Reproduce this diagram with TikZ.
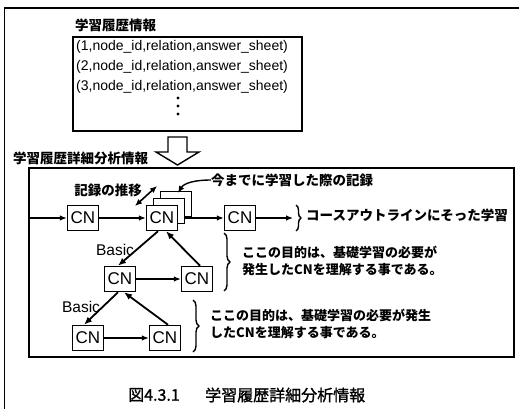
\documentclass[tikz,border=0pt]{standalone}
\usepackage{fontspec}
\setmainfont{Liberation Sans}
\newfontfamily\jp{Noto Sans CJK JP}
\newfontfamily\jpmed[FakeBold=1.2]{Noto Sans CJK JP}
\usetikzlibrary{arrows.meta,decorations.pathreplacing}
\begin{document}
\begin{tikzpicture}[x=1pt,y=-1pt,
 frame/.style={line width=1.4pt},
 cnbox/.style={draw,line width=1.5pt,fill=white,minimum width=31pt,minimum height=25pt,inner sep=0pt,font=\fontsize{17}{17}\selectfont},
 harrow/.style={line width=1.2pt,-{Latex[length=7pt,width=5.5pt]}},
 darrow/.style={line width=1.8pt,-{Latex[length=8pt,width=6.5pt]}},
 jtitle/.style={font=\jp\bfseries\fontsize{13.5}{14}\selectfont,inner sep=0pt,anchor=west},
 jtext/.style={font=\jp\bfseries\fontsize{13}{17}\selectfont,inner sep=0pt,anchor=west,align=left},
 code/.style={font=\fontsize{14}{14}\selectfont,inner sep=0pt,anchor=west},
 lbl/.style={font=\fontsize{15.5}{16}\selectfont,inner sep=0pt},
 brc/.style={decorate,decoration={brace,amplitude=5pt},line width=1.4pt},
 captxt/.style={font=\jpmed\fontsize{16}{16}\selectfont,inner sep=0pt,anchor=west},
]
\useasboundingbox (0,0) rectangle (519,409);
% outer frame
\draw[frame] (4.5,409) -- (4.5,8) -- (519,8);
% learning history box
\node[jtitle] (t1) at (75,25) {学習履歴情報};
\draw[frame] (73,37) rectangle (302,131);
\node[code] (l1) at (76,47) {(1,node\_id,relation,answer\_sheet)};
\node[code] (l2) at (76,67) {(2,node\_id,relation,answer\_sheet)};
\node[code] (l3) at (76,87) {(3,node\_id,relation,answer\_sheet)};
\fill (178,98) circle (1.6);
\fill (178,106) circle (1.6);
\fill (178,114) circle (1.6);
% hollow arrow
\draw[frame,fill=white] (168,137) -- (187,137) -- (187,152) -- (199,152) -- (177.5,165) -- (156,152) -- (168,152) -- cycle;
\node[jtitle] (t2) at (13,158) {学習履歴詳細分析情報};
% analysis box
\draw[frame] (29,168) rectangle (514,357);
% nodes
\node[cnbox] (CN1) at (83,218) {CN};
\node[cnbox] (CN2c) at (176,204) {};
\node[cnbox] (CN2b) at (169,211) {};
\node[cnbox] (CN2) at (162,218) {CN};
\node[cnbox] (CN3) at (240,218) {CN};
\node[cnbox] (CN4) at (120,279) {CN};
\node[cnbox] (CN5) at (197,279) {CN};
\node[cnbox] (CN6) at (88,338) {CN};
\node[cnbox] (CN7) at (165,338) {CN};
% top row arrows
\coordinate (entry) at (29,218);
\coordinate (c3end) at (293,218);
\draw[harrow] (entry) -- (CN1);
\draw[harrow] (CN1) -- (CN2);
\draw[harrow] (CN2b.east |- CN3.west) -- (CN3.west);
\draw[harrow] (CN3) -- (c3end);
% record annotations
\node[jtitle,anchor=center] (rec) at (108,190) {記録の推移};
\coordinate (ra) at (135,206);
\coordinate (rb) at (157,186);
\draw[line width=1.6pt,{Latex[length=7pt,width=6pt]}-{Latex[length=7pt,width=6pt]}] (ra) -- (rb);
\node[jtitle] (past) at (211,180) {今までに学習した際の記録};
\coordinate (pastend) at (178,193);
\draw[line width=1.4pt,-{Latex[length=7pt,width=6pt]}] (past.west) .. controls (195,180) and (184,183) .. (pastend);
% diagonal arrows
\draw[darrow] ([xshift=-4pt]CN2.south) -- ([xshift=-2pt]CN4.north);
\node[lbl] (b1) at (115,250) {Basic};
\draw[darrow] ([xshift=3pt]CN5.north) -- ([xshift=4pt]CN2.south);
\draw[harrow] (CN4) -- (CN5);
\draw[darrow] ([xshift=-2pt]CN4.south) -- ([xshift=-4pt]CN6.north);
\node[lbl] (b2) at (81,307) {Basic};
\draw[darrow] ([xshift=3pt]CN7.north) -- ([xshift=4pt]CN4.south);
\draw[harrow] (CN6) -- (CN7);
% braces and texts
\draw[brc] (296,205) -- (296,231);
\node[jtitle] (course) at (306,215) {コースアウトラインにそった学習};
\draw[brc,decoration={amplitude=6pt}] (224,233) -- (224,291);
\node[jtext] (p1) at (242,261) {ここの目的は、基礎学習の必要が\\発生したCNを理解する事である。};
\draw[brc,decoration={amplitude=6pt}] (193,300) -- (193,352);
\node[jtext] (p2) at (210,324) {ここの目的は、基礎学習の必要が発生\\したCNを理解する事である。};
% caption
\node[captxt] (cap1) at (128,395) {図4.3.1};
\node[captxt] (cap2) at (205,395) {学習履歴詳細分析情報};
\end{tikzpicture}
\end{document}
